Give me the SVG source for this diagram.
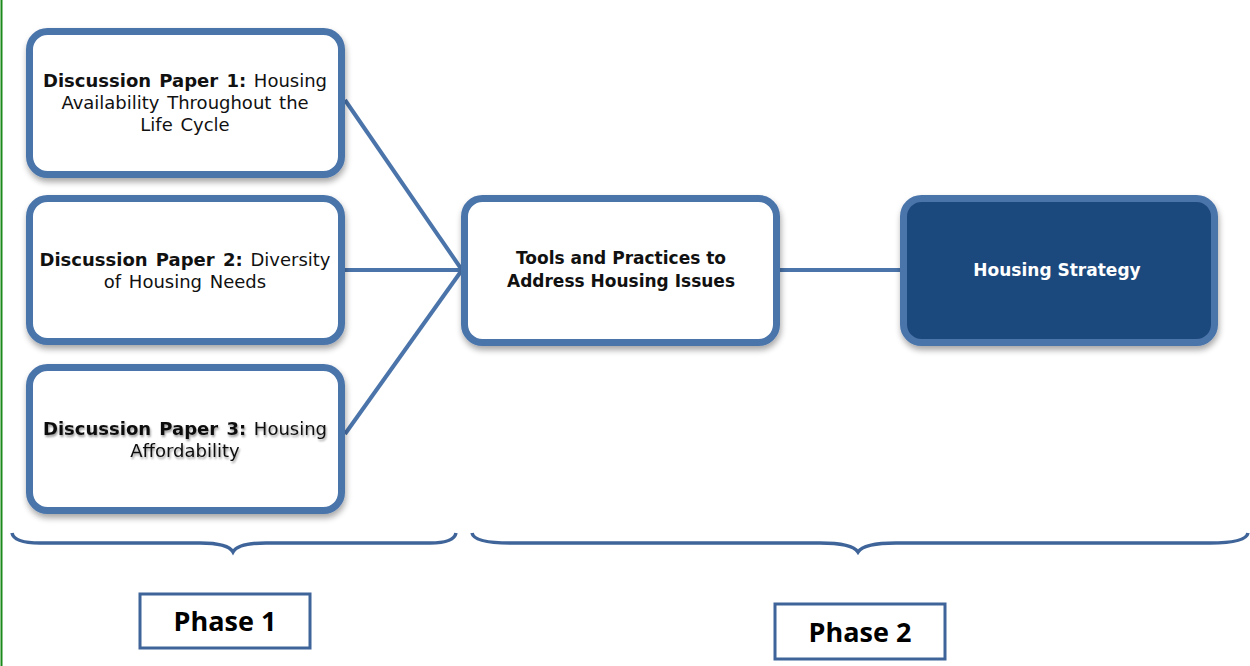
<svg xmlns="http://www.w3.org/2000/svg" width="1250" height="666" viewBox="0 0 1250 666">
<defs>
<filter id="sh" x="-10%" y="-10%" width="125%" height="130%">
<feGaussianBlur in="SourceAlpha" stdDeviation="3"/>
<feOffset dx="1" dy="4" result="b"/>
<feComponentTransfer><feFuncA type="linear" slope="0.35"/></feComponentTransfer>
<feMerge><feMergeNode/><feMergeNode in="SourceGraphic"/></feMerge>
</filter>
<filter id="ts" x="-5%" y="-30%" width="110%" height="160%">
<feGaussianBlur in="SourceAlpha" stdDeviation="1.2"/>
<feOffset dx="1" dy="2"/>
<feComponentTransfer><feFuncA type="linear" slope="0.4"/></feComponentTransfer>
<feMerge><feMergeNode/><feMergeNode in="SourceGraphic"/></feMerge>
</filter>
</defs>
<style>
.box{fill:#fff;stroke:#4a74aa;stroke-width:7}
.dark{fill:#1f497d;stroke:#4a74aa;stroke-width:7}
.conn{stroke:#4a74aa;stroke-width:4;fill:none}
.brace{stroke:#3e6499;stroke-width:3.5;fill:none}
.t{font-family:"DejaVu Sans",sans-serif;font-size:17px;fill:#111;text-anchor:middle}
.p{font-size:18px;word-spacing:2px}
.b{font-weight:bold}
.w{fill:#fff;font-weight:bold}
.ph{font-family:"Open Sans","DejaVu Sans",sans-serif;font-size:27px;font-weight:bold;fill:#000;text-anchor:middle}
.phb{fill:#fff;stroke:#3e6499;stroke-width:3}
</style>
<rect width="1250" height="666" fill="#fff"/>
<line x1="1.5" y1="0" x2="1.5" y2="666" stroke="#1a8a1a" stroke-width="2"/>
<g id="connectors">
<line class="conn" x1="345" y1="100" x2="462" y2="270"/>
<line class="conn" x1="345" y1="270" x2="462" y2="270"/>
<line class="conn" x1="345" y1="434" x2="462" y2="270"/>
<line class="conn" x1="780" y1="270" x2="901" y2="270"/>
</g>
<g id="paper1">
<rect class="box" x="29.5" y="31.5" width="312" height="143" rx="18" filter="url(#sh)"/>
<text class="t p" x="185" y="87"><tspan class="b">Discussion Paper 1:</tspan> Housing</text>
<text class="t p" x="185" y="109">Availability Throughout the</text>
<text class="t p" x="185" y="131">Life Cycle</text>
</g>
<g id="paper2">
<rect class="box" x="29.5" y="198.5" width="312" height="143" rx="18" filter="url(#sh)"/>
<text class="t p" x="185" y="266"><tspan class="b">Discussion Paper 2:</tspan> Diversity</text>
<text class="t p" x="185" y="288">of Housing Needs</text>
</g>
<g id="paper3">
<rect class="box" x="29.5" y="367.5" width="312" height="143" rx="18" filter="url(#sh)"/>
<g filter="url(#ts)">
<text class="t p" x="185" y="435"><tspan class="b">Discussion Paper 3:</tspan> Housing</text>
<text class="t p" x="185" y="457">Affordability</text>
</g>
</g>
<g id="tools">
<rect class="box" x="464.5" y="198.5" width="312" height="144" rx="18" filter="url(#sh)"/>
<text class="t b" x="621" y="264">Tools and Practices to</text>
<text class="t b" x="621" y="287">Address Housing Issues</text>
</g>
<g id="strategy">
<rect class="dark" x="903.5" y="198.5" width="311" height="144" rx="18" filter="url(#sh)"/>
<text class="t w" x="1057" y="276">Housing Strategy</text>
</g>
<g id="brace1">
<path class="brace" d="M12,533 Q14,543 40,543 L200,543 Q228,543 233,552 Q238,543 266,543 L430,543 Q454,543 456,533"/>
</g>
<g id="brace2">
<path class="brace" d="M472,533 Q474,543 510,543 L820,543 Q852,543 858,552 Q864,543 896,543 L1210,543 Q1246,543 1248,533"/>
</g>
<g id="phase1">
<rect class="phb" x="140" y="594" width="170" height="54"/>
<text class="ph" x="225" y="631">Phase 1</text>
</g>
<g id="phase2">
<rect class="phb" x="775" y="604" width="170" height="55"/>
<text class="ph" x="860" y="642">Phase 2</text>
</g>
</svg>
